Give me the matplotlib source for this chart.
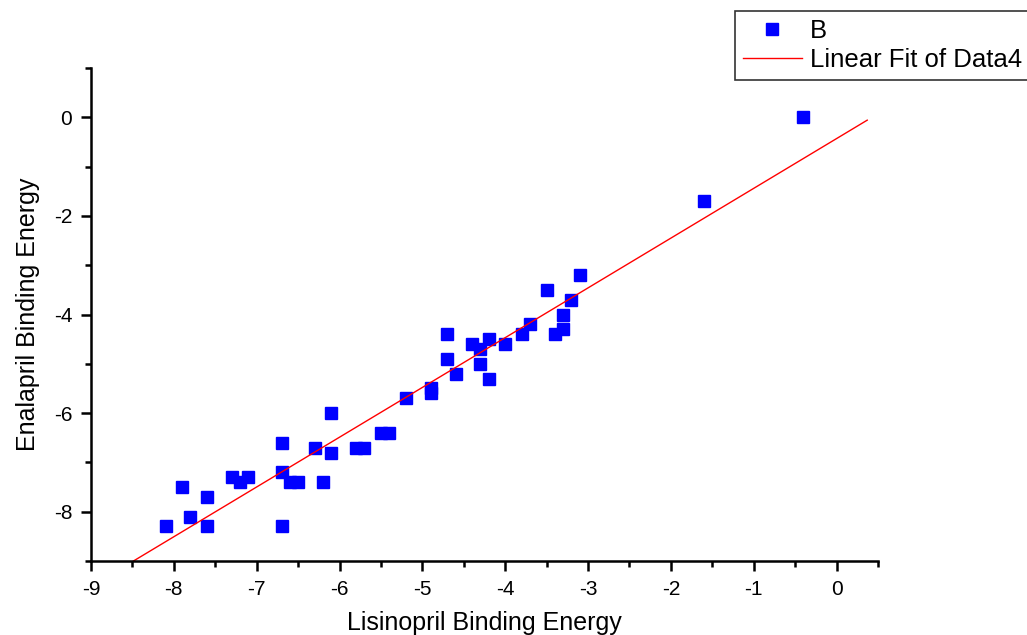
import numpy as np
import matplotlib
matplotlib.use("Agg")
import matplotlib.pyplot as plt
from matplotlib.ticker import MultipleLocator

plt.rcParams['font.family'] = ['Liberation Sans', 'DejaVu Sans']
plt.rcParams['axes.unicode_minus'] = False

# Data
lisinopril = [-8.1, -7.9, -7.8, -7.6, -7.6, -7.3, -7.2, -7.1, -6.7, -6.7, -6.7,
              -6.6, -6.5, -6.3, -6.2, -6.1, -6.1, -5.8, -5.7, -5.5, -5.4, -5.2,
              -4.9, -4.9, -4.7, -4.7, -4.6, -4.4, -4.3, -4.3, -4.2, -4.2, -4.0,
              -3.8, -3.7, -3.5, -3.4, -3.3, -3.3, -3.2, -3.1, -1.6, -0.4]
enalapril = [-8.3, -7.5, -8.1, -7.7, -8.3, -7.3, -7.4, -7.3, -6.6, -7.2, -8.3,
             -7.4, -7.4, -6.7, -7.4, -6.0, -6.8, -6.7, -6.7, -6.4, -6.4, -5.7,
             -5.5, -5.6, -4.4, -4.9, -5.2, -4.6, -4.7, -5.0, -4.5, -5.3, -4.6,
             -4.4, -4.2, -3.5, -4.4, -4.0, -4.3, -3.7, -3.2, -1.7, 0.0]
fit_x_range = [-9.0, 0.37]

x = np.array(lisinopril)
y = np.array(enalapril)
slope, intercept = np.polyfit(x, y, 1)
fx = np.array(fit_x_range)
fy = slope * fx + intercept

fig = plt.figure(figsize=(10.27, 6.35), dpi=100)
ax = fig.add_axes([91/1027, 1-561/635, (878-91)/1027, (561-68)/635])

sc, = ax.plot(x, y, linestyle='none', marker='s', markersize=8,
              color='#0000FF', markeredgecolor='#0000FF', label='B')
ln, = ax.plot(fx, fy, color='#FF0000', linewidth=1.0,
              label='Linear Fit of Data4')

ax.set_xlim(-9, 0.5)
ax.set_ylim(-9, 1)
ax.xaxis.set_major_locator(MultipleLocator(1))
ax.xaxis.set_minor_locator(MultipleLocator(0.5))
ax.yaxis.set_major_locator(MultipleLocator(2))
ax.yaxis.set_minor_locator(MultipleLocator(1))

for s in ['top', 'right']:
    ax.spines[s].set_visible(False)
for s in ['left', 'bottom']:
    ax.spines[s].set_linewidth(1.8)
    ax.spines[s].set_color('black')

ax.tick_params(which='major', direction='out', length=7.5, width=1.8,
               labelsize=15, colors='black')
ax.tick_params(axis='x', which='major', pad=6)
ax.tick_params(axis='y', which='major', pad=6)
ax.tick_params(which='minor', direction='out', length=4, width=1.8)

ax.set_xlabel('Lisinopril Binding Energy', fontsize=18, labelpad=9)
ax.set_ylabel('Enalapril Binding Energy', fontsize=18, labelpad=10)

leg = fig.legend(handles=[sc, ln], loc='upper left',
                 bbox_to_anchor=(735/1027, 1-11/635), bbox_transform=fig.transFigure,
                 fontsize=18.5, frameon=True, fancybox=False, shadow=False,
                 borderaxespad=0, borderpad=0.3, handlelength=2.3,
                 handletextpad=0.3, labelspacing=0.2, markerscale=1.0)
leg.get_frame().set_edgecolor('black')
leg.get_frame().set_linewidth(1.2)

fig.savefig('out.png', dpi=100)
